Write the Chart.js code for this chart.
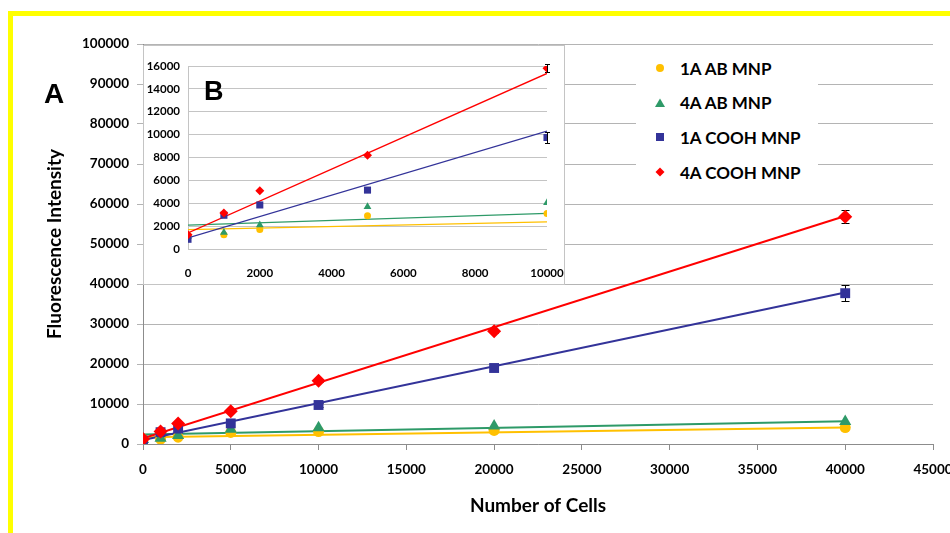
<!DOCTYPE html>
<html>
<head>
<meta charset="utf-8">
<script src="https://cdn.jsdelivr.net/npm/chart.js@4"></script>
<style>
  html, body { margin: 0; padding: 0; background: #fff; overflow: hidden; }
  #wrap { position: relative; width: 950px; height: 533px; overflow: hidden; }
  #frame { position: absolute; left: 8px; top: 11px; width: 1100px; height: 700px; border: 5px solid #ffff00; }
  #mainChart { position: absolute; left: 0; top: 0; }
  #insetBox { position: absolute; left: 143px; top: 45px; width: 422px; height: 240px;
              background: #fff; border: 1px solid #c4c4c4; box-sizing: border-box; }
  #insetChart { position: absolute; left: 0; top: 0; }
  .panel { position: absolute; font-family: "Liberation Sans", Arial, sans-serif; font-weight: bold;
           font-size: 28px; color: #000; line-height: 1; }
  #legend { position: absolute; left: 636px; top: 50px; width: 182px; height: 142px; background: #fff; }
  .item { position: absolute; left: 0; height: 24px; display: flex; align-items: center;
          font-family: Lato, "Open Sans", sans-serif; font-weight: bold; font-size: 17px; color: #000; }
  .item svg { width: 14px; height: 14px; margin-left: 17px; margin-right: 13px; }
</style>
</head>
<body>
<div id="wrap">
  <div id="frame"></div>
  <canvas id="mainChart" width="950" height="533"></canvas>
  <div id="insetBox"><canvas id="insetChart" width="420" height="238"></canvas></div>
  <div class="panel" style="left:44px; top:80px;">A</div>
  <div class="panel" style="left:204px; top:78px; font-size:27px;">B</div>
  <div id="legend"></div>
</div>

<script>
/* ------------------------------------------------------------
   Data
   ------------------------------------------------------------ */
const xCells = [0, 1000, 2000, 5000, 10000, 20000, 40000];

const ab1A   = [1200, 1250, 1700, 2900, 3100, 3400, 4100];
const ab4A   = [1100, 1450, 2100, 3700, 4050, 4500, 5600];
const cooh1A = [850, 2950, 3850, 5150, 9750, 19000, 37700];
const cooh4A = [1250, 3150, 5100, 8200, 15800, 28200, 56800];

const errCooh1A = [0, 0, 0, 0, 450, 300, 2000];
const errCooh4A = [0, 0, 0, 0, 350, 500, 1600];

// trendline end points
const trendXMain  = [0, 40000];
const trendAb1A   = [1700, 4150];
const trendAb4A   = [2400, 5700];
const trendC1A    = [1000, 37900];
const trendC4A    = [1400, 57000];

const trendXInset     = [0, 10000];
const trendAb1AInset  = [1700, 2380];
const trendAb4AInset  = [2090, 3120];
const trendC1AInset   = [970, 10300];
const trendC4AInset   = [1410, 15350];

const xTicksMain  = [0, 5000, 10000, 15000, 20000, 25000, 30000, 35000, 40000, 45000];
const yTicksMain  = [0, 10000, 20000, 30000, 40000, 50000, 60000, 70000, 80000, 90000, 100000];
const xTicksInset = [0, 2000, 4000, 6000, 8000, 10000];
const yTicksInset = [0, 2000, 4000, 6000, 8000, 10000, 12000, 14000, 16000];

const seriesNames = ["1A AB MNP", "4A AB MNP", "1A COOH MNP", "4A COOH MNP"];
const colors = ["#ffc000", "#2e9a68", "#333399", "#ff0000"];
const shapes = ["circle", "triangle", "rect", "rectRot"];

/* ------------------------------------------------------------
   Helpers
   ------------------------------------------------------------ */
const pts = (xs, ys, n) => xs.slice(0, n).map((x, i) => ({ x: x, y: ys[i] }));
const plain = v => String(v);

const errorBars = {
    id: "errorBars",
    beforeDatasetsDraw(chart) {
        const { ctx, scales: { x, y } } = chart;
        const cap = chart.canvas.id === "mainChart" ? 4 : 2.5;
        chart.data.datasets.forEach(ds => {
            if (!ds.errors) return;
            ctx.save();
            ctx.strokeStyle = "#000";
            ctx.lineWidth = 1;
            ds.data.forEach((p, j) => {
                const e = ds.errors[j];
                if (!e) return;
                const px = Math.round(x.getPixelForValue(p.x)) + 0.5;
                const t = Math.round(y.getPixelForValue(p.y + e)) + 0.5;
                const b = Math.round(y.getPixelForValue(p.y - e)) + 0.5;
                ctx.beginPath();
                ctx.moveTo(px, t); ctx.lineTo(px, b);
                ctx.moveTo(px - cap, t); ctx.lineTo(px + cap, t);
                ctx.moveTo(px - cap, b); ctx.lineTo(px + cap, b);
                ctx.stroke();
            });
            ctx.restore();
        });
    }
};

function markerSet(i, ys, errs, n, radius) {
    return {
        label: seriesNames[i],
        data: pts(xCells, ys, n),
        errors: errs,
        showLine: false,
        pointStyle: shapes[i],
        pointRadius: radius[i],
        pointHoverRadius: radius[i],
        backgroundColor: colors[i],
        borderColor: colors[i],
        borderWidth: 0
    };
}

function trendSet(i, xs, ys, width) {
    return {
        label: seriesNames[i] + " trend",
        data: pts(xs, ys, xs.length),
        showLine: true,
        pointRadius: 0,
        borderColor: colors[i],
        borderWidth: width
    };
}

const tickFont = (size) => ({ family: "Lato, 'Open Sans', sans-serif", size: size, weight: "bold" });

/* ------------------------------------------------------------
   Chart A: full range
   ------------------------------------------------------------ */
const mainRadius = [5.5, 7, 7, 7];
new Chart(document.getElementById("mainChart"), {
    type: "scatter",
    data: {
        datasets: [
            markerSet(3, cooh4A, errCooh4A, 7, mainRadius),
            markerSet(2, cooh1A, errCooh1A, 7, mainRadius),
            markerSet(1, ab4A, null, 7, mainRadius),
            markerSet(0, ab1A, null, 7, mainRadius),
            trendSet(3, trendXMain, trendC4A, 2),
            trendSet(2, trendXMain, trendC1A, 2),
            trendSet(1, trendXMain, trendAb4A, 2),
            trendSet(0, trendXMain, trendAb1A, 2)
        ]
    },
    options: {
        responsive: false,
        animation: false,
        layout: { padding: { left: 0, right: 17, top: 44, bottom: 0 } },
        plugins: { legend: { display: false }, tooltip: { enabled: false } },
        scales: {
            x: {
                type: "linear",
                min: xTicksMain[0],
                max: xTicksMain[xTicksMain.length - 1],
                ticks: { stepSize: xTicksMain[1] - xTicksMain[0], color: "#000", font: tickFont(13.5),
                         padding: 12, maxRotation: 0, autoSkip: false, callback: plain },
                grid: { drawOnChartArea: false, drawTicks: true, tickLength: 6, color: "#8c8c8c" },
                border: { color: "#8c8c8c" },
                title: { display: true, text: "Number of Cells", color: "#000",
                         font: { family: "Lato, 'Open Sans', sans-serif", size: 19, weight: "bold" },
                         padding: { top: 0, bottom: 16 } },
                afterFit(s) { s.height = 89; s.paddingLeft = 0; s.paddingRight = 0; }
            },
            y: {
                min: yTicksMain[0],
                max: yTicksMain[yTicksMain.length - 1],
                ticks: { stepSize: yTicksMain[1] - yTicksMain[0], color: "#000", font: tickFont(13.5),
                         padding: 8, callback: plain },
                grid: { color: "#b4b4b4", tickLength: 6 },
                border: { color: "#8c8c8c" },
                title: { display: true, text: "Fluorescence Intensity", color: "#000",
                         font: { family: "Lato, 'Open Sans', sans-serif", size: 19, weight: "bold" },
                         padding: { top: 43, bottom: 0 } },
                afterFit(s) { s.width = 143; s.paddingTop = 0; s.paddingBottom = 0; }
            }
        }
    },
    plugins: [errorBars]
});

/* ------------------------------------------------------------
   Chart B: inset, 0 - 10000 cells
   ------------------------------------------------------------ */
const insetRadius = [3.5, 4.5, 5, 4.5];
new Chart(document.getElementById("insetChart"), {
    type: "scatter",
    data: {
        datasets: [
            markerSet(3, cooh4A, errCooh4A, 5, insetRadius),
            markerSet(2, cooh1A, errCooh1A, 5, insetRadius),
            markerSet(1, ab4A, null, 5, insetRadius),
            markerSet(0, ab1A, null, 5, insetRadius),
            trendSet(3, trendXInset, trendC4AInset, 1.3),
            trendSet(2, trendXInset, trendC1AInset, 1.3),
            trendSet(1, trendXInset, trendAb4AInset, 1.3),
            trendSet(0, trendXInset, trendAb1AInset, 1.3)
        ]
    },
    options: {
        responsive: false,
        animation: false,
        layout: { padding: { left: 0, right: 17, top: 20, bottom: 0 } },
        plugins: { legend: { display: false }, tooltip: { enabled: false } },
        scales: {
            x: {
                type: "linear",
                min: xTicksInset[0],
                max: xTicksInset[xTicksInset.length - 1],
                ticks: { stepSize: xTicksInset[1] - xTicksInset[0], color: "#000", font: tickFont(11.5),
                         padding: 9, maxRotation: 0, autoSkip: false, callback: plain },
                grid: { display: false },
                border: { display: false },
                afterFit(s) { s.height = 35; s.paddingLeft = 0; s.paddingRight = 0; }
            },
            y: {
                min: yTicksInset[0],
                max: yTicksInset[yTicksInset.length - 1],
                ticks: { stepSize: yTicksInset[1] - yTicksInset[0], color: "#000", font: tickFont(11.5),
                         padding: 8, callback: plain },
                grid: { color: "#c4c4c4", drawTicks: false },
                border: { color: "#c4c4c4" },
                afterFit(s) { s.width = 44; s.paddingTop = 0; s.paddingBottom = 0; }
            }
        }
    },
    plugins: [errorBars]
});

/* ------------------------------------------------------------
   Legend
   ------------------------------------------------------------ */
const svgShape = {
    circle:   c => `<circle cx="7" cy="7" r="4" fill="${c}"/>`,
    triangle: c => `<polygon points="7,2.5 12,11 2,11" fill="${c}"/>`,
    rect:     c => `<rect x="3" y="3" width="8" height="8" fill="${c}"/>`,
    rectRot:  c => `<polygon points="7,2.5 11.5,7 7,11.5 2.5,7" fill="${c}"/>`
};
const legend = document.getElementById("legend");
seriesNames.forEach((name, i) => {
    const row = document.createElement("div");
    row.className = "item";
    row.style.top = (6 + i * 34.7) + "px";
    row.innerHTML = `<svg viewBox="0 0 14 14">${svgShape[shapes[i]](colors[i])}</svg>${name}`;
    legend.appendChild(row);
});
</script>
</body>
</html>
